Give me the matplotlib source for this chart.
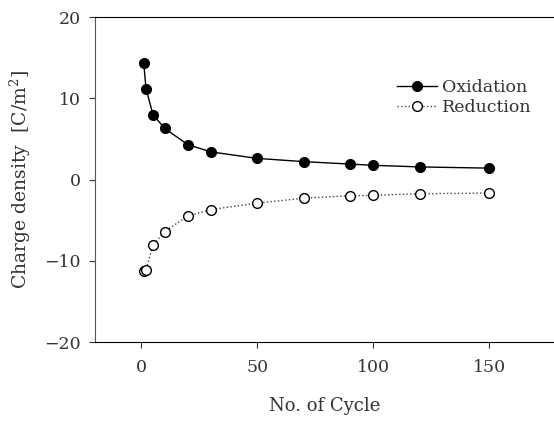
import numpy as np
from matplotlib import pyplot as plt

plt.rcParams['font.family'] = ['DejaVu Serif']
plt.rcParams['mathtext.fontset'] = 'dejavuserif'

# cycle numbers
cycles = np.array([1, 2, 5, 10, 20, 30, 50, 70, 90, 100, 120, 150])
# charge density [C/m^2]
oxidation = np.array([14.4, 11.2, 8.0, 6.3, 4.3, 3.4, 2.6, 2.2, 1.9, 1.75, 1.55, 1.4])
reduction = np.array([-11.3, -11.1, -8.1, -6.4, -4.5, -3.7, -2.9, -2.3, -2.0, -1.95, -1.75, -1.67])

txt = '#333333'

fig = plt.figure(figsize=(5.54, 4.21), dpi=100)
ax = fig.add_axes([0.1715, 0.1876, 0.8285, 0.772])

ax.plot(cycles, oxidation, '-', color='black', lw=1, marker='o', ms=7,
        mfc='black', mec='black', label='Oxidation')
ax.plot(cycles, reduction, ':', color='#444444', lw=1, marker='o', ms=7,
        mfc='white', mec='black', mew=1, label='Reduction')

ax.set_xlim(-20, 178)
ax.set_ylim(-20, 20)
ax.set_xticks([0, 50, 100, 150])
ax.set_yticks([-20, -10, 0, 10, 20])
ax.set_yticklabels(['\u221220', '\u221210', '0', '10', '20'])
ax.spines['right'].set_visible(False)
ax.spines['left'].set_color('#555555')
ax.tick_params(direction='out', labelsize=12.5, length=4, colors=txt)
ax.tick_params(axis='x', pad=8)
ax.tick_params(axis='y', pad=6)

ax.set_xlabel('No. of Cycle', fontsize=13, labelpad=15, color=txt)
ax.set_ylabel('Charge density  [C/m$^2$]', fontsize=13.5, labelpad=8, color=txt)

leg = ax.legend(loc='upper left', bbox_to_anchor=(0.643, 0.83), frameon=False,
                fontsize=12.5, handlelength=2.3, handletextpad=0.3, labelspacing=0.15,
                borderaxespad=0)
for t in leg.get_texts():
    t.set_color(txt)

fig.savefig('out.png', dpi=100)
